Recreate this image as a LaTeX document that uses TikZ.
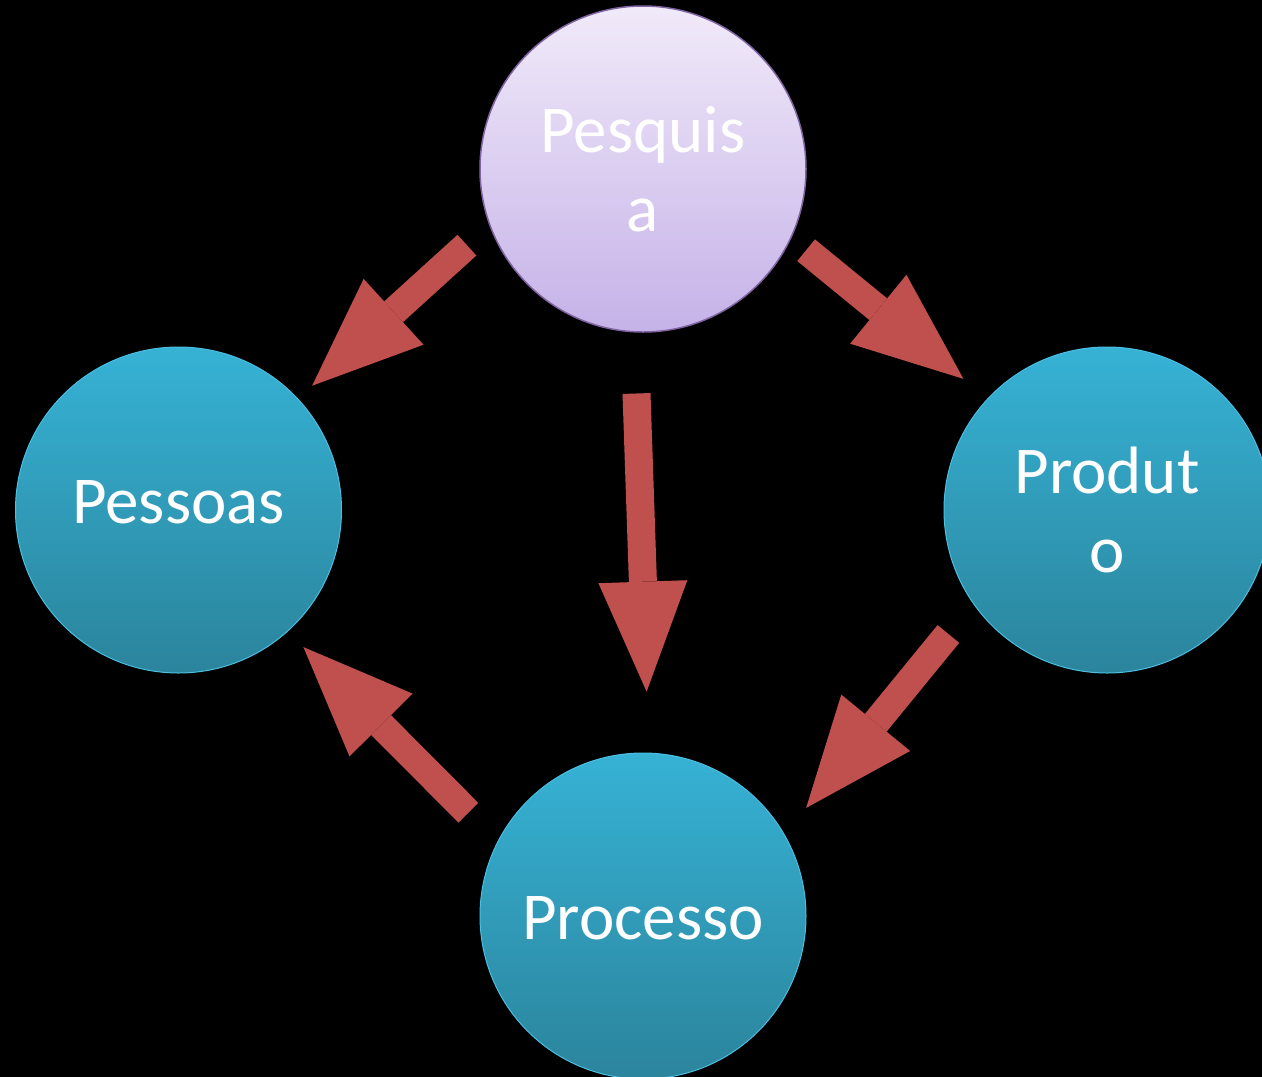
\documentclass[tikz,border=0pt]{standalone}
\usepackage{fontspec}
\setmainfont{Carlito}
\usetikzlibrary{arrows.meta}

\definecolor{arrowred}{RGB}{192,80,77}
\definecolor{topictop}{RGB}{54,178,213}
\definecolor{topicbot}{RGB}{43,132,156}
\definecolor{topicedge}{RGB}{75,190,225}
\definecolor{researchtop}{RGB}{241,234,249}
\definecolor{researchbot}{RGB}{197,178,232}
\definecolor{researchedge}{RGB}{128,100,162}

\begin{document}
\begin{tikzpicture}[x=1pt, y=-1pt, >={Triangle[length=110pt, width=89pt, line width=0pt]}]
\tikzstyle{base}=[circle, minimum size=326pt, inner sep=0pt, text=white, align=center, font=\fontsize{67}{79}\selectfont, text height=46pt, text depth=0pt]
\tikzstyle{twoline}=[text height=125pt]
\tikzstyle{topic}=[base, draw=topicedge, line width=1pt, top color=topictop, bottom color=topicbot]
\tikzstyle{research}=[base, draw=researchedge, line width=1.5pt, top color=researchtop, bottom color=researchbot]
\tikzstyle{flow}=[->, line width=28pt, draw=arrowred]

\useasboundingbox[fill=black] (0,0) rectangle (1262,1077);
\clip (0,0) rectangle (1262,1077);

\node[research, twoline] (pesquisa) at (643,169)   {Pesquis\\a};
\node[topic, text depth=20pt] (pessoas) at (178.5,510) {Pessoas};
\node[topic, twoline] (produto) at (1107,510)  {Produt\\o};
\node[topic] (processo) at (643,916)  {Processo};

\draw[flow, shorten <=30pt, shorten >=19pt] (pesquisa.200.5) -- (pessoas.43.5);
\draw[flow, shorten <=19pt, shorten >=31pt] (pesquisa.335.6) -- (produto.137.8);
\draw[flow, shorten <=61pt, shorten >=61pt] (pesquisa.267.7) -- (processo.88.4);
\draw[flow, shorten <=39pt, shorten >=34pt] (produto.215.4) -- (processo.30.7);
\draw[flow, shorten <=41pt, shorten >=22pt] (processo.153.7) -- (pessoas.312);
%\draw (pessoas) -- (produto);
\end{tikzpicture}
\end{document}
